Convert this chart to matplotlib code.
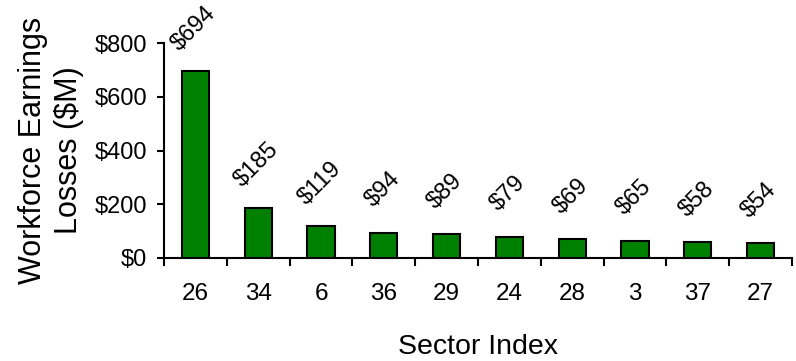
import numpy as np
import matplotlib.pyplot as plt
from matplotlib.ticker import FixedLocator, FuncFormatter

plt.rcParams['font.family'] = ['Liberation Sans', 'DejaVu Sans']

sectors = ['26', '34', '6', '36', '29', '24', '28', '3', '37', '27']
losses = [694, 185, 119, 94, 89, 79, 69, 65, 58, 54]

fig = plt.figure(figsize=(7.96, 3.61), dpi=100)
ax = fig.add_axes([164 / 796, 1 - 258 / 361, 628 / 796, 215 / 361])

x = np.arange(len(sectors))
ax.bar(x, losses, width=0.43, color='#008000', edgecolor='black', linewidth=1.5, zorder=3)

# value labels, tilted, centred a little above each bar
for xi, v in zip(x, losses):
    ax.text(xi - 0.02, v + 160, f'${v}', rotation=45, ha='center', va='center',
            fontsize=17, clip_on=False)

ax.set_xlim(-0.5, len(sectors) - 0.5)
ax.set_ylim(0, 800)
ax.set_yticks([0, 200, 400, 600, 800])
ax.yaxis.set_major_formatter(FuncFormatter(lambda v, p: f'${v:.0f}'))

# category labels centred, tick marks between categories
ax.set_xticks(x)
ax.set_xticklabels(sectors)
ax.xaxis.set_minor_locator(FixedLocator(np.arange(-0.5, len(sectors), 1.0)))
ax.tick_params(axis='x', which='major', length=0, pad=18, labelsize=17.5)
ax.tick_params(axis='x', which='minor', length=6, width=1.5, direction='out')
ax.tick_params(axis='y', length=5, width=1.5, direction='out', labelsize=17, pad=7)

for side in ['top', 'right']:
    ax.spines[side].set_visible(False)
ax.spines['left'].set_linewidth(1.5)
ax.spines['bottom'].set_linewidth(1.5)

ax.set_ylabel('Workforce Earnings\nLosses ($M)', fontsize=22, labelpad=8, linespacing=1.25)
ax.set_xlabel('Sector Index', fontsize=20.5, labelpad=21)

fig.savefig('out.png', dpi=100)
